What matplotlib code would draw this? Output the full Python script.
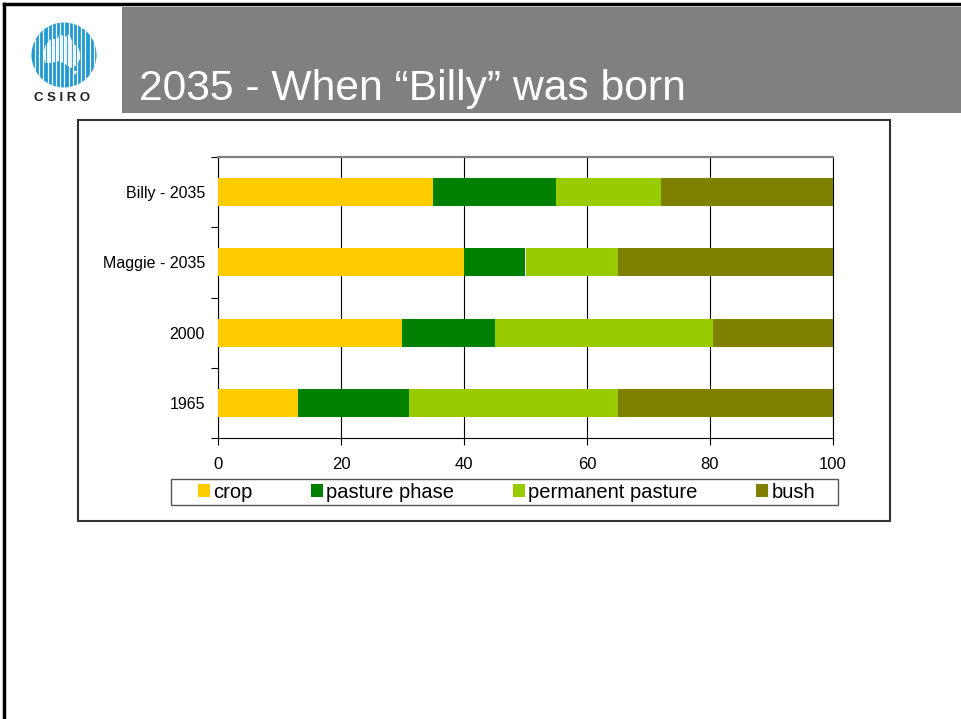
import matplotlib.pyplot as plt
import numpy as np
from matplotlib.patches import Circle, Patch, Polygon, Rectangle
from matplotlib.lines import Line2D

plt.rcParams["font.family"] = ["Liberation Sans", "DejaVu Sans"]

# land use share (%) per scenario, bottom to top
scenarios = ["1965", "2000", "Maggie - 2035", "Billy - 2035"]
crop = [13, 30, 40, 35]
pasture_phase = [18, 15, 10, 20]
permanent_pasture = [34, 35.5, 15, 17]
bush = [35, 19.5, 35, 28]

series_names = ["crop", "pasture phase", "permanent pasture", "bush"]
series_colors = ["#FFCC00", "#008000", "#99CC00", "#808000"]
x_ticks = [0, 20, 40, 60, 80, 100]

W, H = 961, 719
fig = plt.figure(figsize=(W / 100, H / 100), dpi=100)


def fx(px):
    return px / W


def fy(py):
    return 1 - py / H


# slide frame: black top and left edges
fig.add_artist(Line2D([fx(4), fx(4)], [fy(4), 0], color="black", lw=2.5))
fig.add_artist(Line2D([fx(4), 1], [fy(4), fy(4)], color="black", lw=2.5))

# title banner
fig.add_artist(Rectangle((fx(122), fy(113)), 1 - fx(122), (113 - 7) / H,
                         facecolor="#808080", edgecolor="none", zorder=-2))
fig.text(fx(139), fy(100), "2035 - When \u201cBilly\u201d was born",
         color="white", fontsize=30.7, va="baseline", ha="left")

# logo
lax = fig.add_axes([fx(28), fy(108), 76 / W, 100 / H])
lax.set_xlim(28, 104)
lax.set_ylim(108, 8)
lax.set_aspect("equal")
lax.axis("off")
disc = Circle((64, 55), 32.5, facecolor="#1E9AD3", edgecolor="none")
lax.add_patch(disc)
for xs in np.arange(35, 96, 4.2):
    ln = lax.plot([xs, xs], [20, 90], color="white", lw=0.9)[0]
    ln.set_clip_path(disc)
aus = Polygon([(45, 46), (51, 39), (57, 39), (60, 34), (65, 37), (69, 34),
               (73, 43), (79, 49), (81, 57), (77, 65), (71, 68), (65, 64),
               (59, 61), (51, 63), (45, 63), (43, 55)],
              closed=True, facecolor="white", edgecolor="none", alpha=0.9)
lax.add_patch(aus)
for xs in np.arange(38, 90, 4.2):
    ln = lax.plot([xs, xs], [30, 70], color="#1E9AD3", lw=0.6)[0]
    ln.set_clip_path(aus)
lax.add_patch(Polygon([(73, 71), (77, 71), (75, 75)], facecolor="white",
                      edgecolor="none"))
lax.text(62, 98, "C S I R O", fontsize=9.5, fontweight="bold", color="#222222",
         ha="center", va="center")

# chart box
fig.add_artist(Rectangle((fx(78), fy(521)), (890 - 78) / W, (521 - 120) / H,
                         facecolor="white", edgecolor="#333333", lw=1.5,
                         zorder=-1))

ax = fig.add_axes([fx(218), fy(438), (833 - 218) / W, (438 - 157) / H])
ypos = np.arange(len(scenarios))
left = np.zeros(len(scenarios))
handles = []
for name, vals, color in zip(series_names,
                             [crop, pasture_phase, permanent_pasture, bush],
                             series_colors):
    ax.barh(ypos, vals, left=left, height=0.4, color=color, zorder=3)
    left += np.array(vals)
    handles.append(Patch(facecolor=color, edgecolor="none", label=name))

ax.set_xlim(0, 100)
ax.set_ylim(-0.5, len(scenarios) - 0.5)
ax.set_xticks(x_ticks)
ax.set_xticklabels([str(v) for v in x_ticks], fontsize=12)
ax.tick_params(axis="x", direction="out", length=5, width=0.8, pad=8.5)
ax.set_yticks(ypos)
ax.set_yticklabels(scenarios, fontsize=11.5)
ax.tick_params(axis="y", which="major", length=0, pad=9.5)
ax.set_yticks(np.arange(-0.5, len(scenarios), 1.0), minor=True)
ax.tick_params(axis="y", which="minor", direction="out", length=5, width=0.8)
ax.grid(axis="x", color="black", lw=0.8, zorder=1)
ax.spines["left"].set_color("black")
ax.spines["bottom"].set_color("black")
ax.spines["right"].set_color("black")
ax.spines["top"].set_color("#808080")
ax.spines["top"].set_linewidth(1.6)
ax.set_facecolor("white")

# legend box drawn separately so the entries can sit inset from its edges
fig.add_artist(Rectangle((fx(171), fy(505)), (838 - 171) / W, (505 - 479) / H,
                         facecolor="white", edgecolor="#555555", lw=1.0,
                         zorder=0.5))
leg = fig.legend(handles=handles, ncol=4, mode="expand",
                 bbox_to_anchor=(fx(195), fy(505), (818 - 195) / W, (505 - 479) / H),
                 loc="center", fontsize=14.5, frameon=False,
                 handlelength=0.6, handleheight=0.6,
                 handletextpad=0.15, borderpad=0.15, borderaxespad=0,
                 columnspacing=1.0)

fig.savefig("out.png", dpi=100)
